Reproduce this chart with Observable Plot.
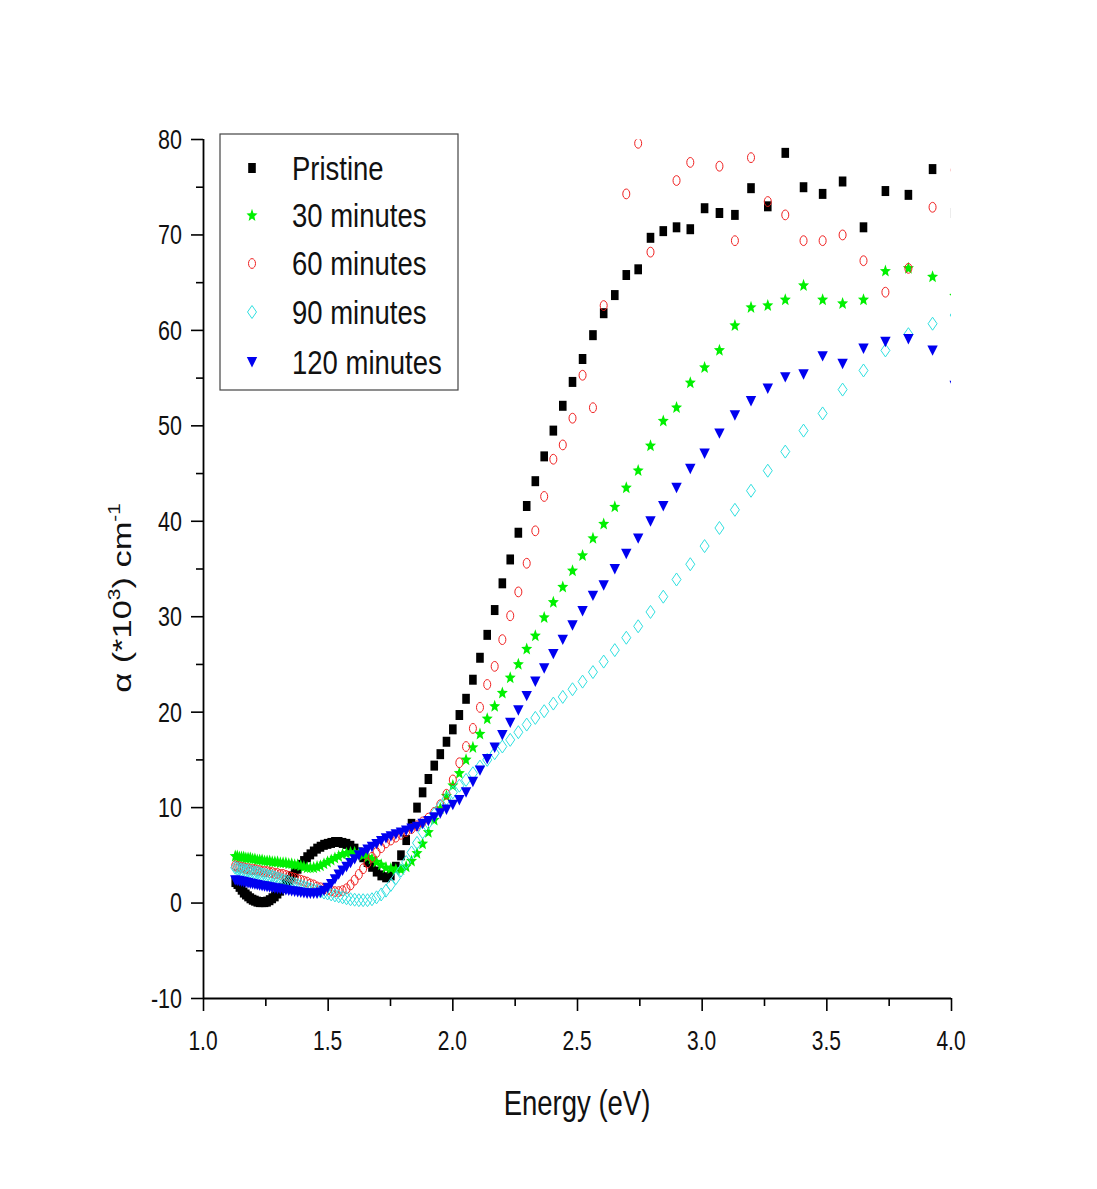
<!DOCTYPE html>
<html>
<head>
<meta charset="utf-8">
<script src="https://cdn.jsdelivr.net/npm/d3@7"></script>
<script src="https://cdn.jsdelivr.net/npm/@observablehq/plot@0.6"></script>
<style>
  html, body { margin: 0; padding: 0; background: #fff; }
  #chart svg { display: block; background: #fff; }
</style>
</head>
<body>
<div id="chart"></div>
<script>
// ---- data ----
const seriesNames = ["Pristine", "30 minutes", "60 minutes", "90 minutes", "120 minutes"];

// measurement wavelengths (nm); energy = 1240 / wavelength
const wavelength = [309, 316, 324, 332, 340, 348, 356, 364, 372, 380,
  388, 396, 404, 412, 420, 428, 436, 444, 452, 460,
  468, 476, 484, 492, 500, 508, 516, 524, 532, 540,
  548, 556, 564, 572, 580, 588, 596, 604, 612, 620,
  628, 636, 644, 652, 660, 668, 676, 684, 692, 700,
  708, 716, 724, 732, 740, 748, 756, 764, 772, 780,
  788, 796, 804, 812, 820, 828, 836, 844, 852, 860,
  868, 876, 884, 892, 900, 908, 916, 924, 932, 940,
  948, 956, 964, 972, 980, 988, 996, 1004, 1012, 1020,
  1028, 1036, 1044, 1052, 1060, 1068, 1076, 1084, 1092, 1100];

const pristine = [72.3, 76.9, 74.2, 74.6, 70.8, 75.6, 74.3, 75.0, 78.6, 73.0,
  74.9, 72.1, 72.3, 72.8, 70.6, 70.8, 70.4, 69.7, 66.4, 65.8,
  63.7, 61.8, 59.5, 57.0, 54.6, 52.1, 49.5, 46.8, 44.2, 41.6,
  38.8, 36.0, 33.5, 30.7, 28.1, 25.7, 23.4, 21.4, 19.7, 18.2,
  16.9, 15.6, 14.4, 13.0, 11.6, 10.0, 8.3, 6.6, 5.0, 3.8,
  2.9, 2.7, 2.9, 3.3, 3.8, 4.3, 4.8, 5.3, 5.7, 6.0,
  6.2, 6.3, 6.4, 6.4, 6.3, 6.2, 6.1, 5.9, 5.7, 5.4,
  5.1, 4.8, 4.4, 4.0, 3.6, 3.2, 2.8, 2.4, 2.0, 1.6,
  1.3, 1.0, 0.7, 0.5, 0.3, 0.15, 0.1, 0.1, 0.1, 0.15,
  0.25, 0.35, 0.5, 0.7, 0.9, 1.1, 1.4, 1.7, 2.0, 2.2];

const min30 = [63.6, 65.6, 66.5, 66.2, 63.2, 62.8, 63.2, 64.7, 63.2, 62.6,
  62.4, 60.5, 57.9, 56.1, 54.5, 51.9, 50.5, 47.9, 45.3, 43.5,
  41.5, 39.7, 38.2, 36.4, 34.8, 33.1, 31.5, 29.9, 28.0, 26.6,
  25.0, 23.6, 22.0, 20.6, 19.3, 17.7, 16.3, 15.0, 13.6, 12.3,
  11.2, 9.9, 8.7, 7.4, 6.2, 5.2, 4.4, 3.8, 3.5, 3.5,
  3.6, 3.7, 4.0, 4.3, 4.6, 4.8, 5.0, 5.2, 5.3, 5.3,
  5.2, 5.1, 4.9, 4.7, 4.5, 4.3, 4.1, 3.9, 3.8, 3.7,
  3.7, 3.7, 3.8, 3.9, 4.0, 4.0, 4.1, 4.1, 4.2, 4.2,
  4.2, 4.3, 4.3, 4.3, 4.4, 4.4, 4.4, 4.5, 4.5, 4.5,
  4.6, 4.6, 4.7, 4.7, 4.7, 4.8, 4.8, 4.8, 4.9, 4.9];

const min60 = [76.8, 72.9, 66.5, 64.0, 67.3, 70.0, 69.4, 69.4, 72.1, 73.5,
  78.1, 69.4, 77.2, 84.0, 77.6, 75.7, 82.0, 68.2, 79.6, 74.3,
  83.0, 62.6, 51.9, 55.3, 50.8, 48.0, 46.5, 42.6, 39.0, 35.6,
  32.6, 30.1, 27.6, 24.8, 22.9, 20.5, 18.3, 16.4, 14.7, 12.9,
  11.4, 10.3, 9.5, 8.9, 8.5, 8.1, 7.8, 7.5, 7.2, 6.9,
  6.6, 6.3, 5.8, 5.3, 4.8, 4.2, 3.6, 3.0, 2.4, 1.9,
  1.5, 1.3, 1.2, 1.2, 1.3, 1.4, 1.5, 1.6, 1.7, 1.9,
  2.0, 2.2, 2.3, 2.4, 2.5, 2.6, 2.7, 2.8, 2.9, 3.0,
  3.0, 3.1, 3.1, 3.2, 3.2, 3.3, 3.3, 3.3, 3.4, 3.4,
  3.5, 3.5, 3.5, 3.6, 3.6, 3.7, 3.7, 3.8, 3.8, 3.9];

const min90 = [61.6, 60.7, 59.6, 57.9, 55.8, 53.8, 51.3, 49.5, 47.3, 45.3,
  43.2, 41.2, 39.3, 37.4, 35.5, 33.9, 32.1, 30.5, 29.0, 27.8,
  26.5, 25.3, 24.2, 23.2, 22.4, 21.6, 20.9, 20.1, 19.4, 18.7,
  17.9, 17.1, 16.4, 15.7, 15.0, 14.3, 13.6, 12.9, 12.3, 11.6,
  10.9, 10.1, 9.3, 8.4, 7.4, 6.3, 5.3, 4.3, 3.4, 2.6,
  1.9, 1.3, 0.9, 0.6, 0.4, 0.3, 0.3, 0.3, 0.35, 0.4,
  0.5, 0.6, 0.7, 0.8, 0.9, 1.0, 1.1, 1.2, 1.3, 1.4,
  1.5, 1.6, 1.7, 1.8, 1.9, 2.0, 2.1, 2.2, 2.3, 2.4,
  2.5, 2.6, 2.7, 2.8, 2.8, 2.9, 3.0, 3.0, 3.1, 3.2,
  3.2, 3.3, 3.3, 3.4, 3.4, 3.5, 3.5, 3.6, 3.6, 3.7];

const min120 = [54.2, 57.9, 59.1, 58.8, 58.1, 56.5, 57.3, 55.4, 55.1, 53.9,
  52.6, 51.1, 49.2, 47.1, 45.5, 43.5, 41.6, 40.0, 38.2, 36.6,
  35.0, 33.3, 32.2, 30.6, 29.1, 27.6, 26.1, 24.6, 23.2, 21.7,
  20.2, 18.9, 17.6, 16.3, 15.1, 13.9, 12.7, 11.6, 10.8, 10.3,
  9.8, 9.4, 9.0, 8.6, 8.3, 8.0, 7.8, 7.6, 7.4, 7.2,
  7.0, 6.8, 6.5, 6.2, 5.9, 5.6, 5.3, 5.0, 4.6, 4.2,
  3.8, 3.4, 3.0, 2.5, 2.0, 1.6, 1.3, 1.1, 1.0, 1.0,
  1.0, 1.0, 1.05, 1.1, 1.15, 1.2, 1.25, 1.3, 1.35, 1.4,
  1.45, 1.5, 1.55, 1.6, 1.65, 1.7, 1.75, 1.8, 1.85, 1.9,
  1.95, 2.0, 2.05, 2.1, 2.15, 2.2, 2.25, 2.3, 2.35, 2.4];

const xTicks = [1.0, 1.5, 2.0, 2.5, 3.0, 3.5, 4.0];
const xMinorTicks = [1.25, 1.75, 2.25, 2.75, 3.25, 3.75];
const yTicks = [-10, 0, 10, 20, 30, 40, 50, 60, 70, 80];
const yMinorTicks = [-5, 5, 15, 25, 35, 45, 55, 65, 75];

// ---- symbols (the original figure is stretched vertically) ----
function ellipse(ctx, rx, ry) {
  const k = 0.5523;
  ctx.moveTo(rx, 0);
  ctx.bezierCurveTo(rx, ry * k, rx * k, ry, 0, ry);
  ctx.bezierCurveTo(-rx * k, ry, -rx, ry * k, -rx, 0);
  ctx.bezierCurveTo(-rx, -ry * k, -rx * k, -ry, 0, -ry);
  ctx.bezierCurveTo(rx * k, -ry, rx, -ry * k, rx, 0);
  ctx.closePath();
}
const symSquare = {draw(ctx) { ctx.rect(-3.8, -5.0, 7.6, 10); }};
const symStar = {draw(ctx) {
  for (let i = 0; i < 10; i++) {
    const a = -Math.PI / 2 + i * Math.PI / 5;
    const r = i % 2 ? 2.5 : 5.8;
    const px = r * Math.cos(a), py = r * Math.sin(a) * 1.15;
    if (i === 0) ctx.moveTo(px, py); else ctx.lineTo(px, py);
  }
  ctx.closePath();
}};
const symCircle = {draw(ctx) { ellipse(ctx, 3.5, 4.9); }};
const symDiamond = {draw(ctx) {
  ctx.moveTo(0, -6.5); ctx.lineTo(4.5, 0); ctx.lineTo(0, 6.5); ctx.lineTo(-4.5, 0); ctx.closePath();
}};
const symTriangle = {draw(ctx) {
  ctx.moveTo(-5.2, -5.0); ctx.lineTo(5.2, -5.0); ctx.lineTo(0, 5.4); ctx.closePath();
}};

const styles = [
  {symbol: symSquare, fill: "#000000", stroke: "none", strokeWidth: 0},
  {symbol: symStar, fill: "#00f000", stroke: "none", strokeWidth: 0},
  {symbol: symCircle, fill: "none", stroke: "#f02020", strokeWidth: 1},
  {symbol: symDiamond, fill: "none", stroke: "#30e0e0", strokeWidth: 1},
  {symbol: symTriangle, fill: "#0000f0", stroke: "none", strokeWidth: 0}
];
const allValues = [pristine, min30, min60, min90, min120];
const energy = wavelength.map(l => 1240 / l);

const seriesData = seriesNames.map((name, si) =>
  allValues[si].map((v, i) => ({name, energy: energy[i], alpha: v})));

const W = 1097, H = 1189;
const chart = Plot.plot({
  width: W,
  height: H,
  marginLeft: 203,
  marginRight: 146,
  marginTop: 139,
  marginBottom: 191,
  style: {background: "#fff", fontFamily: "'Liberation Sans', Arial, sans-serif"},
  x: {domain: [1, 4], label: null},
  y: {domain: [-10, 80], label: null},
  marks: [
    ...seriesData.map((d, si) => Plot.dot(d, {
      x: "energy", y: "alpha",
      symbol: styles[si].symbol,
      fill: styles[si].fill,
      stroke: styles[si].stroke,
      strokeWidth: styles[si].strokeWidth,
      r: 4,
      clip: true
    })),
    Plot.axisY(yTicks, {tickSize: 12, fill: "none", stroke: "#000", strokeWidth: 1.6}),
    Plot.axisY(yMinorTicks, {tickSize: 7, fill: "none", stroke: "#000", strokeWidth: 1.6}),
    Plot.axisX(xTicks, {tickSize: 13, fill: "none", stroke: "#000", strokeWidth: 1.6}),
    Plot.axisX(xMinorTicks, {tickSize: 8, fill: "none", stroke: "#000", strokeWidth: 1.6}),
    Plot.ruleX([1], {stroke: "#000", strokeWidth: 1.8}),
    Plot.ruleY([-10], {stroke: "#000", strokeWidth: 1.8})
  ]
});

document.getElementById("chart").appendChild(chart);

// ---- text: tick labels, axis titles, legend ----
const sx = chart.scale("x"), sy = chart.scale("y");
const svg = d3.select(chart);
const font = "'Liberation Sans', Arial, sans-serif";
const g = svg.append("g").attr("font-family", font).attr("fill", "#111");

g.selectAll("text.ytl").data(yTicks).join("text")
  .attr("class", "ytl")
  .attr("transform", d => `translate(182,${sy.apply(d)}) scale(1,1.32)`)
  .attr("dy", "0.35em")
  .attr("text-anchor", "end")
  .attr("font-size", 21.5)
  .text(d => String(d));

g.selectAll("text.xtl").data(xTicks).join("text")
  .attr("class", "xtl")
  .attr("transform", d => `translate(${sx.apply(d)},1040) scale(1,1.32)`)
  .attr("dy", "0.35em")
  .attr("text-anchor", "middle")
  .attr("font-size", 21)
  .text(d => d.toFixed(1));

g.append("text")
  .attr("transform", "translate(577,1115) scale(1,1.3)")
  .attr("text-anchor", "middle")
  .attr("font-size", 27.5)
  .text("Energy (eV)");

const yl = g.append("text")
  .attr("transform", "translate(131,598) rotate(-90) scale(1.3,1)")
  .attr("text-anchor", "middle")
  .attr("font-size", 26.5);
yl.append("tspan").text("\u03B1 (*10");
yl.append("tspan").attr("font-size", 16).attr("dy", -11).text("3");
yl.append("tspan").attr("dy", 11).text(") cm");
yl.append("tspan").attr("font-size", 16).attr("dy", -11).text("-1");

// legend
const lg = svg.append("g").attr("font-family", font);
lg.append("rect").attr("x", 220).attr("y", 134).attr("width", 238).attr("height", 256)
  .attr("fill", "#fff").attr("stroke", "#444").attr("stroke-width", 1.2);
const rowY = [168, 215.5, 263.5, 312, 362];
seriesNames.forEach((name, i) => {
  const p = d3.path();
  styles[i].symbol.draw(p);
  lg.append("path")
    .attr("d", p.toString())
    .attr("transform", `translate(252,${rowY[i]})`)
    .attr("fill", styles[i].fill)
    .attr("stroke", styles[i].stroke)
    .attr("stroke-width", styles[i].strokeWidth || null);
  lg.append("text")
    .attr("transform", `translate(292,${rowY[i]}) scale(1,1.2)`)
    .attr("dy", "0.36em")
    .attr("text-anchor", "start")
    .attr("font-size", 27.5)
    .attr("fill", "#111")
    .text(name);
});
</script>
</body>
</html>
